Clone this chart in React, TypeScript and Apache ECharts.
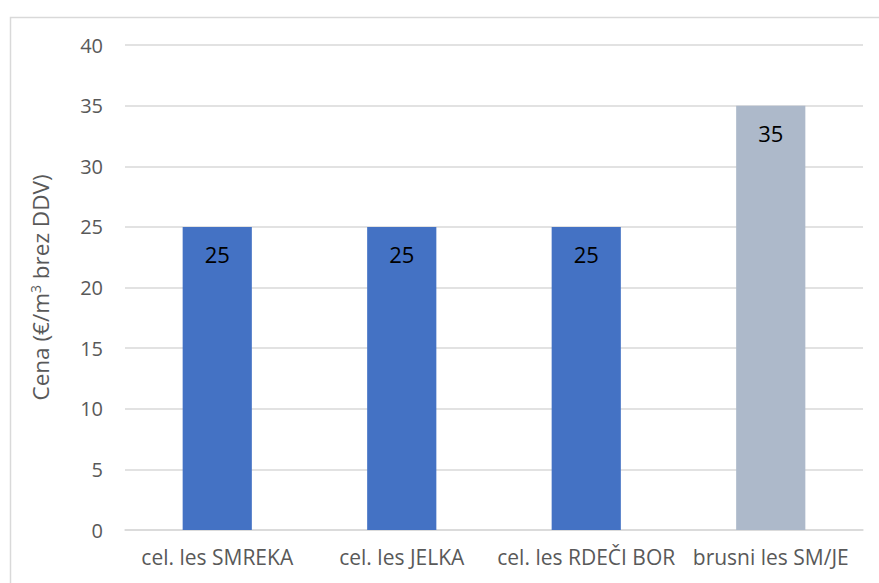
import React, { useEffect, useRef } from "react";
import * as echarts from "echarts";

const categories = ["cel. les SMREKA", "cel. les JELKA", "cel. les RDEČI BOR", "brusni les SM/JE"];
const values = [25, 25, 25, 35];
const barColors = ["#4472C4", "#4472C4", "#4472C4", "#ADB9CA"];
const yTicks = { min: 0, max: 40, interval: 5 };
const yAxisTitle = "Cena (€/m{sup|3} brez DDV)";

const FONT = "'Open Sans', 'Noto Sans', sans-serif";

export default function App() {
  const ref = useRef<HTMLDivElement>(null);
  useEffect(() => {
    if (!ref.current) return;
    const chart = echarts.init(ref.current, null, { renderer: "svg" });
    chart.setOption({
      animation: false,
      backgroundColor: "#ffffff",
      graphic: [
        {
          type: "rect",
          left: 8,
          top: 15,
          shape: { width: 900, height: 600 },
          style: { fill: "none", stroke: "#d9d9d9", lineWidth: 1.5 },
          silent: true,
        },
      ],
      grid: { left: 125, right: 16, top: 45, bottom: 53 },
      xAxis: {
        type: "category",
        data: categories,
        axisLine: { show: true, lineStyle: { color: "#d9d9d9", width: 1.5 } },
        axisTick: { show: false },
        axisLabel: { color: "#595959", fontSize: 21, fontFamily: FONT, margin: 16, interval: 0 },
      },
      yAxis: {
        type: "value",
        min: yTicks.min,
        max: yTicks.max,
        interval: yTicks.interval,
        axisLine: { show: false },
        axisTick: { show: false },
        splitLine: { lineStyle: { color: "#d9d9d9", width: 1.5 } },
        axisLabel: { color: "#595959", fontSize: 20, fontFamily: FONT, margin: 22 },
        name: yAxisTitle,
        nameLocation: "middle",
        nameRotate: 90,
        nameGap: 73,
        nameTextStyle: {
          color: "#595959",
          fontSize: 22.5,
          fontFamily: FONT,
          rich: {
            sup: { fontSize: 14, verticalAlign: "top", color: "#595959", fontFamily: FONT, padding: [0, 0, 10, 0] },
          },
        },
      },
      series: [
        {
          type: "bar",
          barWidth: "37.5%",
          data: values.map((v, i) => ({ value: v, itemStyle: { color: barColors[i] } })),
          label: {
            show: true,
            position: "insideTop",
            distance: 16,
            color: "#000000",
            fontSize: 22,
            fontFamily: FONT,
          },
        },
      ],
    });
    return () => chart.dispose();
  }, []);
  return (
    <div style={{ position: "fixed", left: 0, top: 0, width: 879, height: 583, background: "#fff" }}>
      <div ref={ref} style={{ width: 879, height: 583 }} />
    </div>
  );
}
